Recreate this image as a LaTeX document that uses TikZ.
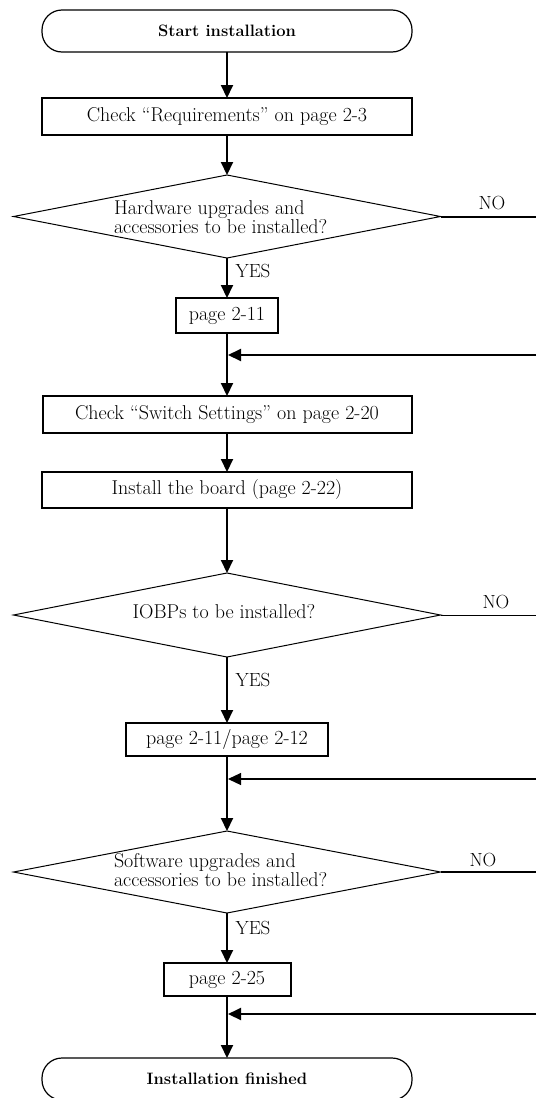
\documentclass[tikz,border=0pt]{standalone}
\usetikzlibrary{shapes.geometric,arrows.meta}
\begin{document}
\begin{tikzpicture}[x=1pt,y=-1pt,
  every node/.style={font=\fontsize{20}{18}\selectfont, inner sep=0pt, outer sep=0pt},
  term/.style={draw, line width=1.2pt, rounded corners=20pt, minimum width=370pt, minimum height=42pt, font=\fontsize{16.5}{18}\selectfont\bfseries},
  proc/.style={draw, line width=2pt},
  dec/.style={draw, diamond, line width=1pt, aspect=5.1, minimum width=427pt, minimum height=83pt},
  flow/.style={line width=2pt, -{Triangle[length=13pt,width=12pt]}},
  thinflow/.style={line width=1.2pt, -{Triangle[length=13pt,width=12pt]}},
  noline/.style={line width=2pt},
  thinnoline/.style={line width=1pt},
  lbl/.style={font=\fontsize{19}{18}\selectfont}
]
\useasboundingbox (0,0) rectangle (536,1098);

% nodes
\node[term] (start) at (227,31) {Start installation};
\node[proc, minimum width=370pt, minimum height=37pt] (req) at (227,116.5) {Check “Requirements” on page 2-3};
\node[dec] (d1) at (227,216.5) {};
\node[align=left, anchor=west] (d1t) at (114,217) {Hardware upgrades and\\accessories to be installed?};
\node[lbl] (no1) at (492,203) {NO};
\node[lbl] (yes1) at (253,271) {YES};
\node[proc, minimum width=102pt, minimum height=35pt] (p211) at (227,315.5) {page 2-11};
\node[proc, minimum width=369pt, minimum height=37pt] (sw) at (227,414.5) {Check “Switch Settings” on page 2-20};
\node[proc, minimum width=370pt, minimum height=36pt] (inst) at (227,490) {Install the board (page 2-22)};
\node[dec, minimum height=84pt] (d2) at (227,615) {};
\node (d2t) at (224,612) {IOBPs to be installed?};
\node[lbl] (no2) at (496,602) {NO};
\node[lbl] (yes2) at (253,680) {YES};
\node[proc, minimum width=202pt, minimum height=33pt] (p212) at (227,739.5) {page 2-11/page 2-12};
\node[dec, minimum height=82pt] (d3) at (227,872) {};
\node[align=left, anchor=west] (d3t) at (114,870) {Software upgrades and\\accessories to be installed?};
\node[lbl] (no3) at (483,860) {NO};
\node[lbl] (yes3) at (253,928) {YES};
\node[proc, minimum width=127pt, minimum height=33pt] (p225) at (227,979.5) {page 2-25};
\node[term] (end) at (227,1079) {Installation finished};

% coordinates
\coordinate (n1) at (536,216.5);
\coordinate (n2) at (536,615);
\coordinate (n3) at (536,872);
\coordinate (r1) at (536,355);
\coordinate (m1) at (228,355);
\coordinate (r2) at (536,779);
\coordinate (m2) at (228,779);
\coordinate (r3) at (536,1014);
\coordinate (m3) at (228,1014);

% connectors
\draw[flow] (start) -- (req);
\draw[flow] (req) -- (d1);
\draw[noline] (d1.east) -- (n1);
\draw[flow] (d1) -- (p211);
\draw[flow] (p211) -- (sw);
\draw[flow] (r1) -- (m1);
\draw[flow] (sw) -- (inst);
\draw[flow] (inst) -- (d2);
\draw[thinnoline] (d2.east) -- (n2);
\draw[flow] (d2) -- (p212);
\draw[flow] (p212) -- (d3);
\draw[thinflow] (r2) -- (m2);
\draw[noline] (d3.east) -- (n3);
\draw[flow] (d3) -- (p225);
\draw[flow] (p225) -- (end);
\draw[flow] (r3) -- (m3);
\end{tikzpicture}
\end{document}
